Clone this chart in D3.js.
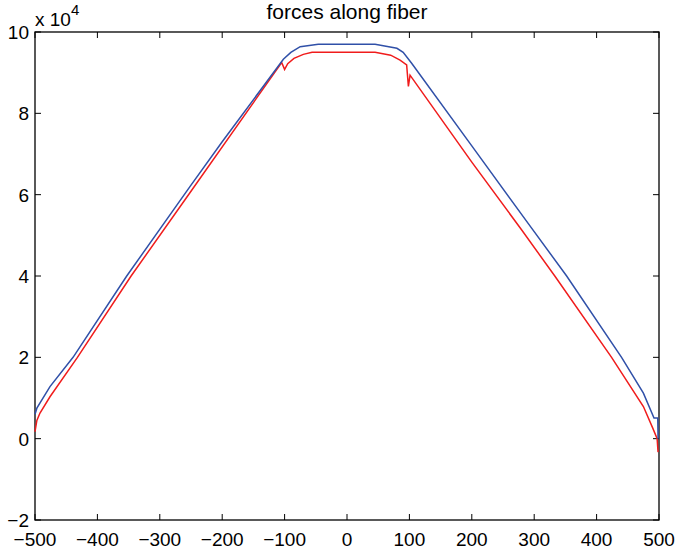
<!DOCTYPE html>
<html>
<head>
<meta charset="utf-8">
<script src="https://cdn.jsdelivr.net/npm/d3@7"></script>
<style>
  body { margin: 0; background: #fff; }
  text { font-family: "Liberation Sans", Arial, sans-serif; fill: #000; }
</style>
</head>
<body>
<svg id="chart"></svg>
<script>
const WIDTH = 679;
const HEIGHT = 556;
const MARGIN = { top: 32, right: 20, bottom: 36, left: 35 };

// positions along the fiber, values in units of 10^4
const blueX = [-500, -497, -476, -439, -353, -252, -200, -102, -90, -75, -46, 45, 80, 90, 103.6, 200, 290, 352, 440, 475, 492, 498, 498.5];
const blueY = [0.6, 0.75, 1.28, 2.0, 4.0, 6.19, 7.3, 9.33, 9.5, 9.64, 9.7, 9.7, 9.6, 9.5, 9.23, 7.2, 5.3, 4.0, 2.0, 1.12, 0.51, 0.51, 0.0];
const redX = [-500, -497, -492, -476, -432, -346, -252, -104.7, -100, -95, -85, -70, -56, 45, 70, 85, 95.6, 98.4, 101, 200, 280, 333, 424, 475, 490, 497, 498.5];
const redY = [0.17, 0.45, 0.63, 1.03, 2.0, 4.0, 6.04, 9.25, 9.08, 9.22, 9.35, 9.45, 9.5, 9.5, 9.43, 9.31, 9.19, 8.66, 8.94, 6.8, 5.13, 4.0, 2.0, 0.79, 0.26, 0.0, -0.33];

const xTicks = [-500, -400, -300, -200, -100, 0, 100, 200, 300, 400, 500];
const yTicks = [-2, 0, 2, 4, 6, 8, 10];

const fmt = d => d < 0 ? "\u2212" + Math.abs(d) : String(d);

let svg = d3.select("#chart").attr("width", WIDTH).attr("height", HEIGHT);

let x = d3.scaleLinear().domain([-500, 500]).range([MARGIN.left, WIDTH - MARGIN.right]);
let y = d3.scaleLinear().domain([-2, 10]).range([HEIGHT - MARGIN.bottom, MARGIN.top]);

const TICK = 6;

// box
svg.append("rect")
   .attr("x", x(-500)).attr("y", y(10))
   .attr("width", x(500) - x(-500)).attr("height", y(-2) - y(10))
   .attr("fill", "none").attr("stroke", "#000").attr("stroke-width", 1.3);

// inward ticks on all four sides
let ticks = svg.append("g").attr("stroke", "#000").attr("stroke-width", 1);
xTicks.forEach(t => {
  ticks.append("line").attr("x1", x(t)).attr("x2", x(t)).attr("y1", y(-2)).attr("y2", y(-2) - TICK);
  ticks.append("line").attr("x1", x(t)).attr("x2", x(t)).attr("y1", y(10)).attr("y2", y(10) + TICK);
});
yTicks.forEach(t => {
  ticks.append("line").attr("x1", x(-500)).attr("x2", x(-500) + TICK).attr("y1", y(t)).attr("y2", y(t));
  ticks.append("line").attr("x1", x(500)).attr("x2", x(500) - TICK).attr("y1", y(t)).attr("y2", y(t));
});

svg.append("g").selectAll("text").data(xTicks).join("text")
   .attr("x", d => x(d)).attr("y", y(-2) + 26)
   .attr("text-anchor", "middle").attr("font-size", 19)
   .text(fmt);

svg.append("g").selectAll("text").data(yTicks).join("text")
   .attr("x", x(-500) - 6).attr("y", d => y(d) + 7)
   .attr("text-anchor", "end").attr("font-size", 19)
   .text(fmt);

// exponent label
let expo = svg.append("text").attr("x", 35).attr("y", 26).attr("font-size", 19);
expo.append("tspan").text("x 10");
expo.append("tspan").attr("dy", -11).attr("font-size", 15).text("4");

svg.append("text")
   .attr("x", (x(-500) + x(500)) / 2).attr("y", 19)
   .attr("text-anchor", "middle").attr("font-size", 21)
   .text("forces along fiber");

const line = d3.line().x(d => x(d[0])).y(d => y(d[1]));

svg.append("path")
   .datum(d3.zip(redX, redY))
   .attr("d", line).attr("fill", "none")
   .attr("stroke", "#f01c1c").attr("stroke-width", 1.5);

svg.append("path")
   .datum(d3.zip(blueX, blueY))
   .attr("d", line).attr("fill", "none")
   .attr("stroke", "#3050a8").attr("stroke-width", 1.5);
</script>
</body>
</html>
